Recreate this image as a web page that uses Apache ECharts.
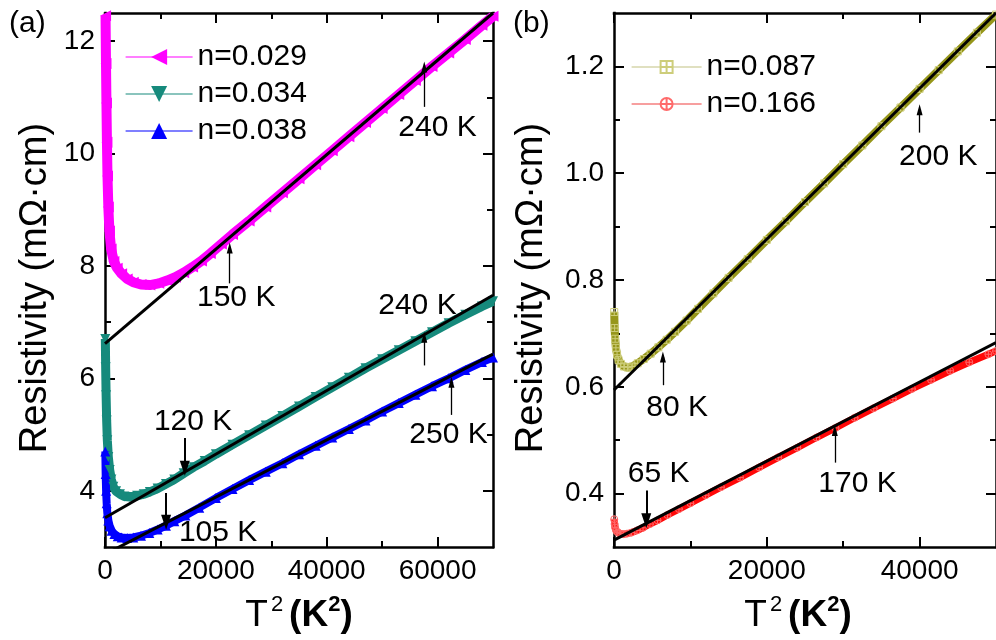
<!DOCTYPE html>
<html><head><meta charset="utf-8">
<script src="https://cdn.jsdelivr.net/npm/echarts@6/dist/echarts.min.js"></script>
<style>html,body{margin:0;padding:0;background:#fff}#c{width:996px;height:640px}</style>
</head><body><div id="c"></div>
<script>
// ---------- data (x = T^2 in K^2, y = resistivity in mOhm·cm) ----------
const t2_029 = [100,180,260,350,450,600,800,1100,1600,2200,3000,4000,5100,6500,8100,9700,11200,12700,14200,15800,17400,19000,21000,23000,26000,29000,32000,35000,38000,41000,44000,47000,50000,53000,56000,59000,62000,65000,68000,70000];
const rho_029 = [12.45,11.6,10.9,10.2,9.6,9.05,8.62,8.3,8.08,7.96,7.86,7.77,7.71,7.67,7.66,7.69,7.74,7.8,7.88,7.98,8.09,8.22,8.39,8.56,8.8,9.05,9.3,9.55,9.8,10.05,10.3,10.55,10.8,11.05,11.3,11.55,11.79,12.03,12.28,12.44];

const t2_034 = [60,120,200,300,420,600,850,1150,1500,2000,2700,3500,4500,5800,7000,8100,9500,11000,12500,14200,16000,18000,20000,23000,26000,29000,32000,35000,38000,41000,44000,47000,50000,53000,56000,59000,62000,65000,68000,70000];
const rho_034 = [6.7,6.2,5.7,5.25,4.9,4.6,4.37,4.2,4.07,3.99,3.94,3.9,3.89,3.91,3.94,3.98,4.04,4.12,4.2,4.31,4.42,4.53,4.65,4.82,4.99,5.16,5.33,5.5,5.67,5.84,6.01,6.18,6.34,6.5,6.66,6.82,6.98,7.13,7.28,7.37];

const t2_038 = [60,120,200,300,420,600,850,1200,1700,2300,3000,4000,5100,6500,8000,9500,11000,12500,14500,17000,20000,23000,26000,29000,32000,35000,38000,41000,44000,47000,50000,53000,56000,59000,62000,65000,68000,70000];
const rho_038 = [4.7,4.3,4.0,3.78,3.6,3.47,3.37,3.29,3.23,3.19,3.17,3.16,3.17,3.2,3.25,3.31,3.38,3.46,3.56,3.7,3.87,4.03,4.19,4.34,4.49,4.65,4.8,4.95,5.1,5.25,5.41,5.56,5.71,5.86,6.0,6.15,6.29,6.37];

const t2_087 = [30,80,150,250,400,600,900,1300,1800,2400,3100,3900,4800,5800,6900,8000,9500,11000,13000,15000,17500,20000,22500,25000,27500,30000,32500,35000,37500,40000,42500,45000,47500,50000];
const rho_087 = [0.74,0.71,0.69,0.673,0.66,0.65,0.643,0.638,0.636,0.638,0.644,0.652,0.662,0.674,0.688,0.703,0.724,0.746,0.775,0.804,0.839,0.875,0.91,0.946,0.981,1.017,1.052,1.088,1.123,1.158,1.193,1.228,1.263,1.297];

const t2_166 = [30,80,150,300,500,800,1200,1700,2300,3000,3800,4700,5700,7000,8500,10000,12000,14000,16500,19000,21500,24000,26500,29000,31500,34000,36500,39000,41500,44000,46500,49000,50000];
const rho_166 = [0.352,0.343,0.336,0.33,0.327,0.325,0.324,0.325,0.327,0.331,0.336,0.343,0.35,0.36,0.371,0.382,0.397,0.412,0.43,0.449,0.468,0.486,0.505,0.523,0.542,0.56,0.578,0.596,0.613,0.63,0.646,0.661,0.667];

// linear T^2 fits (end points)
const fit_029 = [[0, 6.62], [70000, 12.5]];
const fit_034 = [[0, 3.52], [70000, 7.48]];
const fit_038 = [[0, 2.87], [70000, 6.43]];
const fit_087 = [[0, 0.594], [50000, 1.30]];
const fit_166 = [[0, 0.313], [50000, 0.683]];

// axis ticks
const xMajorA = [0, 20000, 40000, 60000];
const xMinorA = [10000, 30000, 50000];
const yMajorA = [4, 6, 8, 10, 12];
const yMinorA = [5, 7, 9, 11];
const xMajorB = [0, 20000, 40000];
const xMinorB = [10000, 30000];
const yMajorB = [0.4, 0.6, 0.8, 1.0, 1.2];
const yMinorB = [0.5, 0.7, 0.9, 1.1];

// annotations: arrows [T^2, from, to] and texts
const arrowsThinA = [[57600, 10.83, 11.54], [22500, 7.69, 8.32], [57600, 6.23, 6.73], [62500, 5.35, 5.93]];
const arrowsBoldA = [[14400, 4.94, 4.40], [11025, 3.96, 3.44]];
const labelsA = ['240 K', '150 K', '240 K', '250 K', '120 K', '105 K'];
const labelPosA = [[60000, 10.45], [23670, 7.44], [56370, 7.30], [61970, 4.99], [15900, 5.22], [20400, 3.25]];
const arrowsThinB = [[40000, 1.076, 1.119], [6400, 0.603, 0.656], [28900, 0.458, 0.518]];
const arrowsBoldB = [[4225, 0.406, 0.349]];
const labelsB = ['200 K', '80 K', '170 K', '65 K'];
const labelPosB = [[42450, 1.031], [8260, 0.561], [31870, 0.419], [5850, 0.438]];

const names = ['n=0.029', 'n=0.034', 'n=0.038', 'n=0.087', 'n=0.166'];

// ---------- chart ----------
const FONT = 'Arial, "Liberation Sans", Helvetica, sans-serif';
const MAG = '#ff00ff', TEAL = '#168a7c', BLUE = '#0000ff', OLIVE = '#96961a', RED = '#ff0808';
const zip = (xs, ys) => xs.map((x, i) => [x, ys[i]]);

function mkAxis(g, pos, min, max, ticks, isMinor, labelFmt) {
  return {
    type: 'value', gridIndex: g, position: pos, min: min, max: max,
    splitLine: {show: false}, minorTick: {show: false}, minorSplitLine: {show: false},
    axisLine: {show: !isMinor, onZero: false, lineStyle: {color: '#000', width: 2.5, cap: 'square'}},
    axisTick: {show: true, inside: true, length: isMinor ? 6 : 10, customValues: ticks,
               lineStyle: {color: '#000', width: 2}},
    axisLabel: labelFmt ? {show: true, customValues: ticks, color: '#000', fontSize: 28,
               fontFamily: FONT, margin: 10, formatter: labelFmt} : {show: false},
    axisPointer: {show: false}, silent: true
  };
}
const intFmt = v => String(Math.round(v));
const decFmt = v => Number(v).toFixed(1);

const xNameRich = {
  t: {fontSize: 37, fontFamily: FONT, color: '#000', lineHeight: 44},
  s: {fontSize: 22, fontFamily: FONT, color: '#000', lineHeight: 22, verticalAlign: 'top', padding: [0, 6, 0, 3]},
  b: {fontSize: 37, fontFamily: FONT, color: '#000', fontWeight: 'bold', lineHeight: 44},
  sb: {fontSize: 22, fontFamily: FONT, color: '#000', fontWeight: 'bold', lineHeight: 22, verticalAlign: 'top'}
};
const xName = '{t|T}{s|2}{b|(K}{sb|2}{b|)}';

const xAxes = [
  Object.assign(mkAxis(0, 'bottom', 0, 70000, xMajorA, false, intFmt),
    {name: xName, nameLocation: 'middle', nameGap: 47, nameTextStyle: {rich: xNameRich}}),
  mkAxis(0, 'bottom', 0, 70000, xMinorA, true, null),
  mkAxis(0, 'top', 0, 70000, xMajorA, false, null),
  mkAxis(0, 'top', 0, 70000, xMinorA, true, null),
  Object.assign(mkAxis(1, 'bottom', 0, 50000, xMajorB, false, intFmt),
    {name: xName, nameLocation: 'middle', nameGap: 47, nameTextStyle: {rich: xNameRich, padding: [0, 14, 0, 0]}}),
  mkAxis(1, 'bottom', 0, 50000, xMinorB, true, null),
  mkAxis(1, 'top', 0, 50000, xMajorB, false, null),
  mkAxis(1, 'top', 0, 50000, xMinorB, true, null)
];
const yNameStyle = {fontSize: 38, fontFamily: FONT, color: '#000', padding: [0, 16, 0, 0]};
const yAxes = [
  Object.assign(mkAxis(0, 'left', 3, 12.5, yMajorA, false, intFmt),
    {name: 'Resistivity (mΩ·cm)', nameLocation: 'middle', nameGap: 50, nameTextStyle: yNameStyle}),
  mkAxis(0, 'left', 3, 12.5, yMinorA, true, null),
  mkAxis(0, 'right', 3, 12.5, yMajorA, false, null),
  mkAxis(0, 'right', 3, 12.5, yMinorA, true, null),
  Object.assign(mkAxis(1, 'left', 0.3, 1.3, yMajorB, false, decFmt),
    {name: 'Resistivity (mΩ·cm)', nameLocation: 'middle', nameGap: 63, nameTextStyle: yNameStyle}),
  mkAxis(1, 'left', 0.3, 1.3, yMinorB, true, null),
  mkAxis(1, 'right', 0.3, 1.3, yMajorB, false, null),
  mkAxis(1, 'right', 0.3, 1.3, yMinorB, true, null)
];

function dataSeries(name, g, data, color, width, symbol, rotate, size, itemStyle) {
  return {
    name: name, type: 'line', xAxisIndex: g * 4, yAxisIndex: g * 4, data: data,
    showSymbol: true, symbol: symbol, symbolRotate: rotate, symbolSize: size,
    lineStyle: {color: color, width: width}, itemStyle: itemStyle || {color: color},
    clip: true, z: 2, silent: true
  };
}
function fitSeries(g, data, extra) {
  return Object.assign({
    type: 'line', xAxisIndex: g * 4, yAxisIndex: g * 4, data: data, symbol: 'none',
    lineStyle: {color: '#000', width: 3}, clip: true, z: 3, silent: true
  }, extra || {});
}
function arrowData(thin, bold) {
  const mk = (a, w, sz) => [
    {coord: [a[0], a[1]], symbol: 'none', lineStyle: {color: '#000', width: w, type: 'solid'}},
    {coord: [a[0], a[2]], symbol: 'triangle', symbolSize: sz, lineStyle: {color: '#000', width: w, type: 'solid'}}
  ];
  return thin.map(a => mk(a, 1.3, [6, 11])).concat(bold.map(a => mk(a, 2, [10, 15])));
}
function markers(thin, bold, labels, pos) {
  return {
    markLine: {silent: true, animation: false, symbol: ['none', 'triangle'], label: {show: false},
      emphasis: {disabled: true}, itemStyle: {color: '#000'},
      lineStyle: {color: '#000', type: 'solid'}, data: arrowData(thin, bold)},
    markPoint: {silent: true, animation: false, symbol: 'circle', symbolSize: 1,
      itemStyle: {color: 'rgba(0,0,0,0)'},
      label: {show: true, position: 'inside', color: '#000', fontSize: 30, fontFamily: FONT,
              formatter: p => p.name},
      data: labels.map((t, i) => ({name: t, coord: pos[i]}))}
  };
}

const SQ_CROSS = 'path://M0,0H10V10H0Z M5,0V10 M0,5H10';
const CIRC_CROSS = 'path://M10,5A5,5,0,1,1,0,5A5,5,0,1,1,10,5Z M5,0V10 M0,5H10';

const option = {
  animation: false,
  backgroundColor: '#fff',
  textStyle: {fontFamily: FONT},
  grid: [
    {left: 105, top: 13, width: 388, height: 534},
    {left: 614, top: 13, width: 387, height: 534}
  ],
  xAxis: xAxes,
  yAxis: yAxes,
  legend: [
    {data: names.slice(0, 3), orient: 'vertical', left: 120, top: 37, itemWidth: 67, itemHeight: 20,
     itemGap: 7, selectedMode: false, textStyle: {fontSize: 30, color: '#000', fontFamily: FONT},
     lineStyle: {width: 1.2}},
    {data: [
       {name: names[3], lineStyle: {color: '#c2c282', width: 1.2}},
       {name: names[4], lineStyle: {color: '#f04040', width: 1.2}}],
     orient: 'vertical', left: 626, top: 47, itemWidth: 70, itemHeight: 15,
     itemGap: 7, selectedMode: false, textStyle: {fontSize: 30, color: '#000', fontFamily: FONT}}
  ],
  graphic: [
    {type: 'text', left: 9, top: 9, style: {text: '(a)', fontSize: 30, fontFamily: FONT, fill: '#000'}},
    {type: 'text', left: 513, top: 9, style: {text: '(b)', fontSize: 30, fontFamily: FONT, fill: '#000'}}
  ],
  series: [
    dataSeries(names[0], 0, zip(t2_029, rho_029), MAG, 10, 'triangle', 90, 11),
    dataSeries(names[1], 0, zip(t2_034, rho_034), TEAL, 9, 'triangle', 180, 10),
    dataSeries(names[2], 0, zip(t2_038, rho_038), BLUE, 8, 'triangle', 0, 10),
    dataSeries(names[3], 1, zip(t2_087, rho_087), OLIVE, 8, SQ_CROSS, 0, 7,
      {color: 'rgba(0,0,0,0)', borderColor: '#cdcd7a', borderWidth: 1}),
    dataSeries(names[4], 1, zip(t2_166, rho_166), RED, 7, CIRC_CROSS, 0, 7,
      {color: 'rgba(0,0,0,0)', borderColor: '#ff6a6a', borderWidth: 1}),
    fitSeries(0, fit_029, markers(arrowsThinA, arrowsBoldA, labelsA, labelPosA)),
    fitSeries(0, fit_034),
    fitSeries(0, fit_038),
    fitSeries(1, fit_087, markers(arrowsThinB, arrowsBoldB, labelsB, labelPosB)),
    fitSeries(1, fit_166)
  ]
};

const chart = echarts.init(document.getElementById('c'), null, {renderer: 'canvas'});
chart.setOption(option);
</script></body></html>
